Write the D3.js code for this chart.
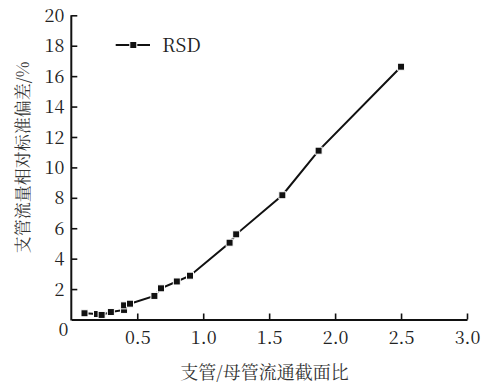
<!DOCTYPE html>
<html>
<head>
<meta charset="utf-8">
<script src="https://cdn.jsdelivr.net/npm/d3@7/dist/d3.min.js"></script>
<style>
  html, body { margin: 0; padding: 0; background: #fff; }
  svg { display: block; }
  .serif { font-family: "Noto Serif CJK SC", "Liberation Serif", serif; }
  .cjk { font-family: "Noto Serif CJK SC", "Noto Sans CJK SC", serif; }
</style>
</head>
<body>
<svg id="chart" width="488" height="387"></svg>
<script>
// Data
const ratio = [0.10, 0.195, 0.23, 0.30, 0.40, 0.40, 0.445, 0.63, 0.68, 0.80, 0.90, 1.20, 1.25, 1.60, 1.875, 2.50];
const rsd   = [0.41, 0.36, 0.30, 0.49, 0.63, 0.93, 1.04, 1.55, 2.05, 2.50, 2.88, 5.05, 5.60, 8.17, 11.10, 16.62];
const xTicks = [0.5, 1.0, 1.5, 2.0, 2.5, 3.0];
const yTicks = [2, 4, 6, 8, 10, 12, 14, 16, 18, 20];
const seriesName = "RSD";
const xTitle = "支管/母管流通截面比";
const yTitle = "支管流量相对标准偏差/%";

const svg = d3.select("#chart");
const x = d3.scaleLinear().domain([0, 3]).range([71.3, 467]);
const y = d3.scaleLinear().domain([0, 20]).range([319.5, 15.3]);

// Axes
const xAxis = d3.axisBottom(x).tickValues(xTicks).tickFormat(d3.format(".1f"))
  .tickSizeInner(-6).tickSizeOuter(0).tickPadding(12);
const yAxis = d3.axisLeft(y).tickValues(yTicks).tickFormat(d3.format("d"))
  .tickSizeInner(-6).tickSizeOuter(0).tickPadding(7);

const gx = svg.append("g").attr("transform", `translate(0,${y(0)})`).call(xAxis);
const gy = svg.append("g").attr("transform", `translate(${x(0)},0)`).call(yAxis);

[gx, gy].forEach(g => {
  g.attr("font-family", null).attr("font-size", null).attr("class", "serif");
  g.select(".domain").attr("stroke", "#111").attr("stroke-width", 2);
  g.selectAll(".tick line").attr("stroke", "#111").attr("stroke-width", 1.6);
  g.selectAll(".tick text").attr("fill", "#222").style("font-size", "18px");
});
gy.selectAll(".tick text").attr("dy", "0.34em");
gy.select(".domain").attr("d", `M0,${y(0)+1}V${y(20)}`);

// origin label
svg.append("text").attr("class", "serif").attr("x", x(0) - 3).attr("y", y(0) + 16.5)
  .attr("text-anchor", "end").attr("fill", "#222")
  .style("font-size", "18px").text("0");

// Line
const pts = ratio.map((r, i) => [r, rsd[i]]);
const line = d3.line().x(d => x(d[0])).y(d => y(d[1]));
svg.append("path").datum(pts).attr("d", line)
  .attr("fill", "none").attr("stroke", "#111").attr("stroke-width", 2);

// Markers
const ms = 7;
svg.selectAll("rect.m").data(pts).enter().append("rect").attr("class", "m")
  .attr("x", d => x(d[0]) - ms / 2).attr("y", d => y(d[1]) - ms / 2)
  .attr("width", ms).attr("height", ms)
  .attr("fill", "#111").attr("stroke", "#fff").attr("stroke-width", 1);

// Legend
const lg = svg.append("g");
lg.append("line").attr("x1", 115.7).attr("x2", 150).attr("y1", 45).attr("y2", 45)
  .attr("stroke", "#111").attr("stroke-width", 2);
lg.append("rect").attr("x", 133.3 - ms / 2).attr("y", 45 - ms / 2).attr("width", ms).attr("height", ms)
  .attr("fill", "#111").attr("stroke", "#fff").attr("stroke-width", 1);
lg.append("text").attr("class", "serif").attr("x", 162).attr("y", 51.5).attr("fill", "#222")
  .style("font-size", "19px").text(seriesName);

// Axis titles
svg.append("text").attr("class", "cjk").attr("x", 264.5).attr("y", 379).attr("text-anchor", "middle")
  .attr("fill", "#333").style("font-size", "18px").text(xTitle);
svg.append("text").attr("class", "cjk").attr("transform", "translate(29,157.5) rotate(-90)").attr("text-anchor", "middle")
  .attr("fill", "#333").style("font-size", "17px").text(yTitle);
</script>
</body>
</html>
